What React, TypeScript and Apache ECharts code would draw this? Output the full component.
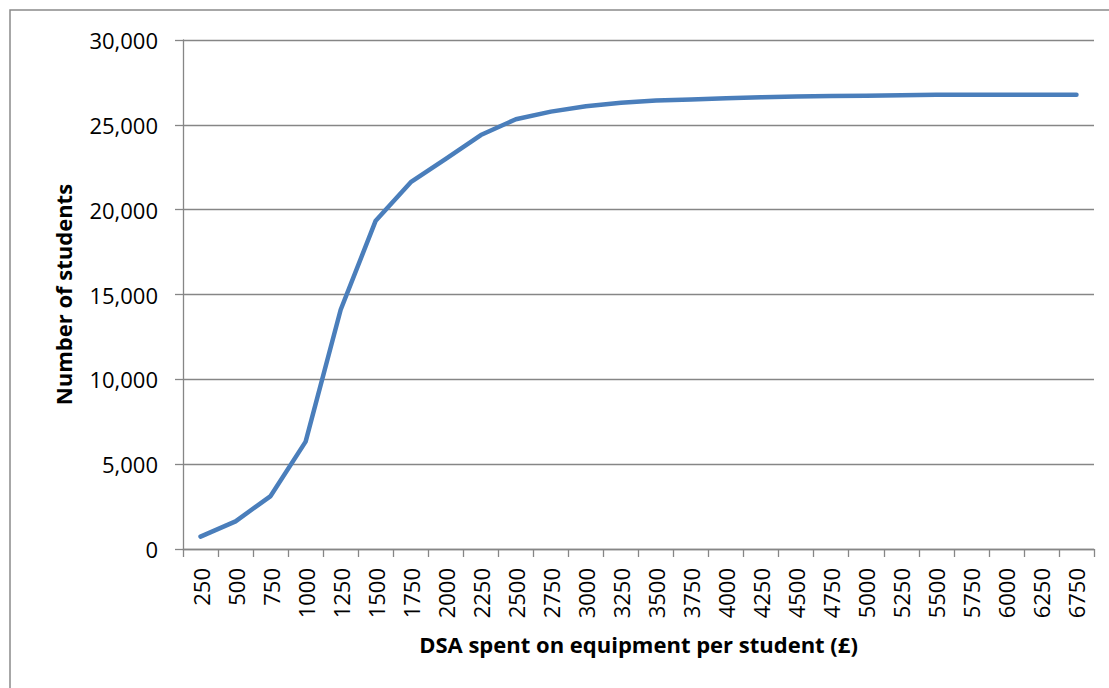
import React, { useEffect, useRef } from "react";
import * as echarts from "echarts";

const categories: string[] = [
  "250", "500", "750", "1000", "1250", "1500", "1750", "2000", "2250", "2500",
  "2750", "3000", "3250", "3500", "3750", "4000", "4250", "4500", "4750", "5000",
  "5250", "5500", "5750", "6000", "6250", "6750",
];

const students: number[] = [
  730, 1630, 3120, 6330, 14100, 19350, 21620, 23000, 24400, 25330,
  25780, 26100, 26300, 26430, 26500, 26560, 26620, 26670, 26700, 26720,
  26750, 26770, 26770, 26770, 26770, 26770,
];

const yTicks = { min: 0, max: 30000, interval: 5000 };

const FONT = "'Open Sans', 'Noto Sans', sans-serif";
const GRAY = "#868686";

export default function App() {
  const ref = useRef<HTMLDivElement>(null);
  useEffect(() => {
    if (!ref.current) return;
    const chart = echarts.init(ref.current, null, { renderer: "svg" });
    chart.setOption({
      animation: false,
      backgroundColor: "#ffffff",
      graphic: [
        {
          type: "rect",
          shape: { x: 10, y: 10, width: 1200, height: 800 },
          style: { fill: "none", stroke: "#8a8a8a", lineWidth: 1.5 },
          silent: true,
        },
      ],
      grid: { left: 183, top: 40, right: 15, bottom: 139, containLabel: false },
      xAxis: {
        type: "category",
        data: categories,
        boundaryGap: true,
        name: "DSA spent on equipment per student (£)",
        nameLocation: "middle",
        nameGap: 84,
        nameTextStyle: { fontFamily: FONT, fontSize: 22, fontWeight: "bold", color: "#000" },
        axisLine: { show: true, lineStyle: { color: GRAY, width: 1.3 } },
        axisTick: { show: true, length: 8, lineStyle: { color: GRAY, width: 1.3 } },
        axisLabel: {
          rotate: 90,
          margin: 19,
          interval: 0,
          fontFamily: FONT,
          fontSize: 22,
          color: "#000",
        },
        splitLine: { show: false },
      },
      yAxis: {
        type: "value",
        min: yTicks.min,
        max: yTicks.max,
        interval: yTicks.interval,
        name: "Number of students",
        nameLocation: "middle",
        nameRotate: 90,
        nameGap: 109,
        nameTextStyle: { fontFamily: FONT, fontSize: 22, fontWeight: "bold", color: "#000" },
        axisLine: { show: true, lineStyle: { color: GRAY, width: 1.3 } },
        axisTick: { show: true, length: 8, lineStyle: { color: GRAY, width: 1.3 } },
        axisLabel: {
          margin: 25,
          fontFamily: FONT,
          fontSize: 22,
          color: "#000",
          formatter: (v: number) => v.toLocaleString("en-US"),
        },
        splitLine: { show: true, lineStyle: { color: GRAY, width: 1.3 } },
      },
      series: [
        {
          type: "line",
          data: students,
          showSymbol: false,
          symbol: "none",
          smooth: false,
          lineStyle: { color: "#4a7ebb", width: 4.5, cap: "round", join: "round" },
          itemStyle: { color: "#4a7ebb" },
        },
      ],
    });
    return () => chart.dispose();
  }, []);
  return (
    <div
      ref={ref}
      style={{ position: "fixed", left: 0, top: 0, width: 1109, height: 688 }}
    />
  );
}
